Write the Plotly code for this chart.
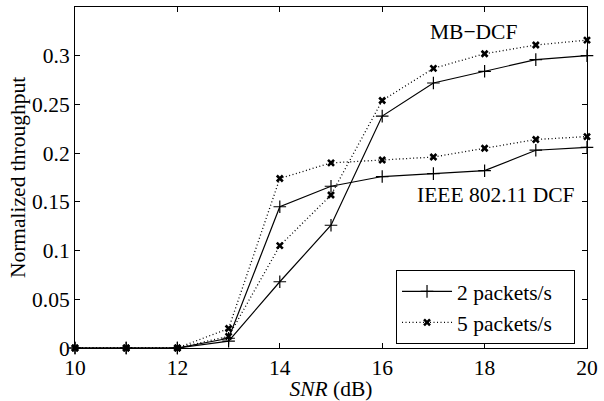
import plotly.graph_objects as go

snr = [10, 11, 12, 13, 14, 15, 16, 17, 18, 19, 20]
mb_2 = [0, 0, 0, 0.007, 0.068, 0.126, 0.238, 0.272, 0.284, 0.296, 0.300]
mb_5 = [0, 0, 0, 0.012, 0.105, 0.157, 0.254, 0.287, 0.302, 0.311, 0.316]
ieee_2 = [0, 0, 0, 0.010, 0.145, 0.166, 0.176, 0.179, 0.182, 0.203, 0.206]
ieee_5 = [0, 0, 0, 0.020, 0.174, 0.190, 0.193, 0.196, 0.205, 0.214, 0.217]

y_ticks = [0, 0.05, 0.1, 0.15, 0.2, 0.25, 0.3]
y_tick_labels = ["0", "0.05", "0.1", "0.15", "0.2", "0.25", "0.3"]
x_ticks = [10, 12, 14, 16, 18, 20]

FONT = "Liberation Serif, Times New Roman, serif"
FS = 21.5
PAD = "\u00a0" * 3

def solid(y, show):
    return go.Scatter(x=snr, y=y, mode="lines+markers", name="2 packets/s" + PAD,
                      showlegend=show, cliponaxis=False,
                      line=dict(color="black", width=1.2),
                      marker=dict(symbol="cross-thin", size=9,
                                  line=dict(color="black", width=1.2)))

def dotted(y, show):
    return go.Scatter(x=snr, y=y, mode="lines+markers", name="5 packets/s" + PAD,
                      showlegend=show, cliponaxis=False,
                      line=dict(color="black", width=1.3, dash="1px,2.5px"),
                      marker=dict(symbol="x-thin", size=6,
                                  line=dict(color="black", width=2.6)))

fig = go.Figure()
fig.add_trace(solid(ieee_2, True))
fig.add_trace(dotted(ieee_5, True))
fig.add_trace(solid(mb_2, False))
fig.add_trace(dotted(mb_5, False))

fig.add_annotation(x=17.78, y=0.3245, xref="x", yref="y", text="MB\u2212DCF",
                   showarrow=False, font=dict(family=FONT, size=FS, color="black"))
fig.add_annotation(x=18.22, y=0.1566, xref="x", yref="y", text="IEEE 802.11 DCF",
                   showarrow=False, font=dict(family=FONT, size=FS, color="black"))

axis_common = dict(showline=True, linecolor="black", linewidth=1, mirror="ticks",
                   ticks="inside", ticklen=5, tickcolor="black", showgrid=False,
                   zeroline=False, tickfont=dict(family=FONT, size=FS, color="black"))

fig.update_xaxes(range=[10, 20], tickvals=x_ticks,
                 title=dict(text="<i>SNR</i> (dB)", font=dict(family=FONT, size=FS, color="black"),
                            standoff=0),
                 **axis_common)
fig.update_yaxes(range=[0, 0.35], tickvals=y_ticks, ticktext=y_tick_labels,
                 title=dict(text="Normalized throughput", font=dict(family=FONT, size=FS, color="black"),
                            standoff=0),
                 **axis_common)

fig.update_layout(
    width=604, height=401,
    margin=dict(l=75, r=11, t=6, b=50),
    plot_bgcolor="white", paper_bgcolor="white",
    font=dict(family=FONT, size=FS, color="black"),
    legend=dict(x=0.627, y=0.229, xanchor="left", yanchor="top",
                bgcolor="white", bordercolor="black", borderwidth=1,
                itemwidth=50, tracegroupgap=0,
                font=dict(family=FONT, size=FS, color="black")),
)

fig.write_html("out.html")
